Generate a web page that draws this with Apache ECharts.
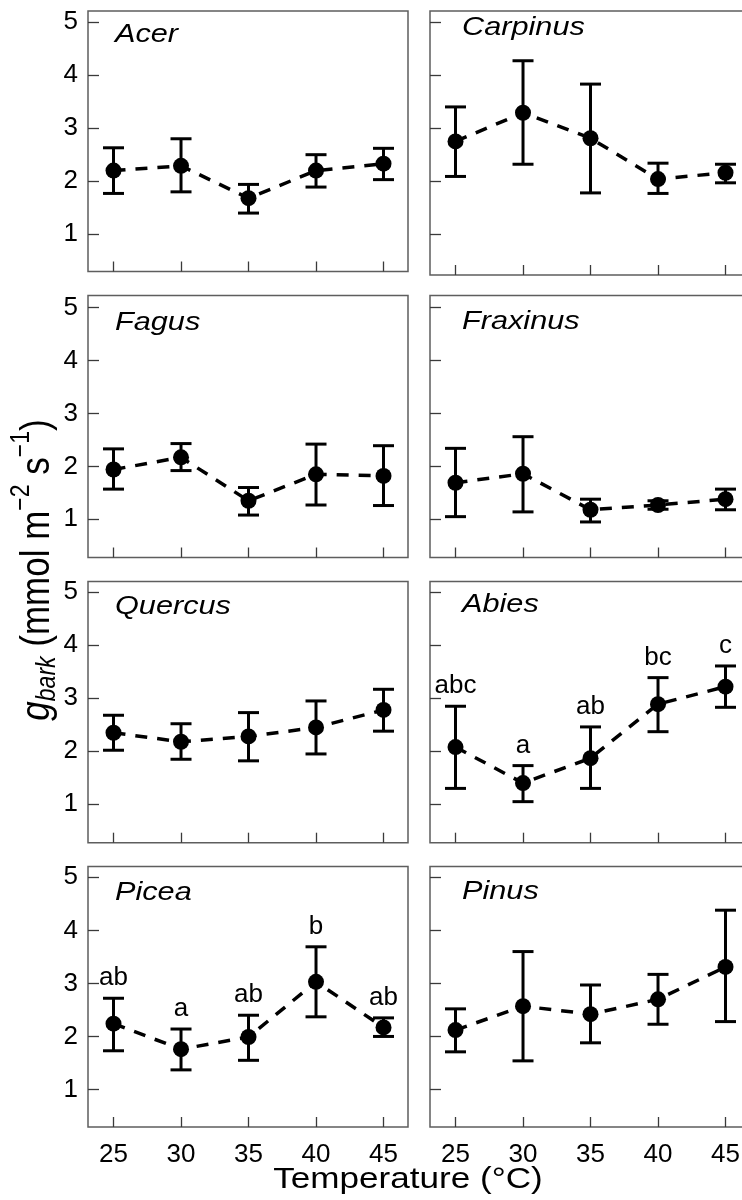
<!DOCTYPE html>
<html>
<head>
<meta charset="utf-8">
<script src="https://cdn.jsdelivr.net/npm/echarts@6/dist/echarts.min.js"></script>
<style>
  html, body { margin: 0; padding: 0; background: #fff; }
  #chart { width: 742px; height: 1200px; }
</style>
</head>
<body>
<div id="chart"></div>
<script>
// Temperatures on the x axis and the y tick values
const temperatures = [25, 30, 35, 40, 45];
const yTicks = [1, 2, 3, 4, 5];

// Bark conductance (mean, lower and upper error limits), mmol m-2 s-1
const acerMean = [2.20, 2.29, 1.68, 2.20, 2.33];
const acerLow  = [1.77, 1.80, 1.40, 1.89, 2.03];
const acerHigh = [2.63, 2.80, 1.94, 2.50, 2.62];

const carpinusMean = [2.75, 3.29, 2.81, 2.04, 2.16];
const carpinusLow  = [2.09, 2.32, 1.78, 1.77, 1.97];
const carpinusHigh = [3.40, 4.27, 3.83, 2.34, 2.32];

const fagusMean = [1.94, 2.17, 1.35, 1.85, 1.82];
const fagusLow  = [1.57, 1.92, 1.08, 1.27, 1.26];
const fagusHigh = [2.33, 2.43, 1.60, 2.42, 2.39];

const fraxinusMean = [1.69, 1.86, 1.18, 1.27, 1.38];
const fraxinusLow  = [1.05, 1.14, 0.95, 1.19, 1.18];
const fraxinusHigh = [2.34, 2.56, 1.38, 1.35, 1.57];

const quercusMean = [2.35, 2.18, 2.28, 2.45, 2.78];
const quercusLow  = [2.02, 1.85, 1.82, 1.95, 2.38];
const quercusHigh = [2.68, 2.52, 2.73, 2.95, 3.17];

const abiesMean = [2.08, 1.40, 1.87, 2.89, 3.22];
const abiesLow  = [1.30, 1.05, 1.30, 2.37, 2.83];
const abiesHigh = [2.85, 1.73, 2.46, 3.39, 3.61];
const abiesLetters = ['abc', 'a', 'ab', 'bc', 'c'];

const piceaMean = [2.24, 1.76, 1.99, 3.03, 2.17];
const piceaLow  = [1.73, 1.37, 1.55, 2.37, 2.00];
const piceaHigh = [2.72, 2.14, 2.40, 3.69, 2.35];
const piceaLetters = ['ab', 'a', 'ab', 'b', 'ab'];

const pinusMean = [2.12, 2.57, 2.42, 2.70, 3.31];
const pinusLow  = [1.71, 1.54, 1.88, 2.23, 2.28];
const pinusHigh = [2.52, 3.60, 2.97, 3.17, 4.38];

const panels = [
  { name: 'Acer',     mean: acerMean,     low: acerLow,     high: acerHigh },
  { name: 'Carpinus', mean: carpinusMean, low: carpinusLow, high: carpinusHigh },
  { name: 'Fagus',    mean: fagusMean,    low: fagusLow,    high: fagusHigh },
  { name: 'Fraxinus', mean: fraxinusMean, low: fraxinusLow, high: fraxinusHigh },
  { name: 'Quercus',  mean: quercusMean,  low: quercusLow,  high: quercusHigh },
  { name: 'Abies',    mean: abiesMean,    low: abiesLow,    high: abiesHigh, letters: abiesLetters },
  { name: 'Picea',    mean: piceaMean,    low: piceaLow,    high: piceaHigh, letters: piceaLetters },
  { name: 'Pinus',    mean: pinusMean,    low: pinusLow,    high: pinusHigh }
];

// ---- layout (pixels) ----
const FONT = '"Liberation Sans", Arial, sans-serif';
const MID = 0.31;               // distance from the middle of the em box to the baseline, in em
const colLeft = [88, 430];
const panelWidth = 320;
const xMin = 23.11, xMax = xMin + panelWidth / 13.5;
// y5 / y1: pixel rows of the 5 and 1 ticks; top / bottom: frame edges (per column)
const rowLayout = [
  { top: 11,    y5: 22,    y1: 234.3,  bottom: [271.5, 275] },
  { top: 295.5, y5: 307.5, y1: 519.3,  bottom: [557.5, 557.5] },
  { top: 581.5, y5: 592.3, y1: 804.3,  bottom: [842.7, 842.7] },
  { top: 866.5, y5: 877.3, y1: 1089.5, bottom: [1127, 1127] }
];
const titleOffset = [32.3, 24.5, 35.5, 34.3, 33, 31.6, 34, 33.3];
const titleIndent = [27, 32];

const grids = [], xAxes = [], yAxes = [], series = [], graphics = [];

panels.forEach((p, i) => {
  const row = Math.floor(i / 2), col = i % 2;
  const L = rowLayout[row];
  const bottom = L.bottom[col];
  const u = (L.y1 - L.y5) / 4;
  const yMax = 5 + (L.y5 - L.top) / u;
  const yMin = 1 - (bottom - L.y1) / u;
  const isBottom = row === rowLayout.length - 1;
  const isLeft = col === 0;

  grids.push({
    left: colLeft[col], top: L.top, width: panelWidth, height: bottom - L.top,
    show: true, borderColor: '#5e5e5e', borderWidth: 1.5, backgroundColor: 'transparent',
    containLabel: false, outerBoundsMode: 'none'
  });

  xAxes.push({
    type: 'value', gridIndex: i, min: xMin, max: xMax,
    axisLine: { show: false },
    splitLine: { show: false },
    axisTick: { show: true, inside: true, length: 10, customValues: temperatures,
                lineStyle: { color: '#3a3a3a', width: 1.3 } },
    axisLabel: { show: isBottom, customValues: temperatures, margin: 15,
                 fontSize: 26, fontFamily: FONT, color: '#000' }
  });

  yAxes.push({
    type: 'value', gridIndex: i, min: yMin, max: yMax,
    axisLine: { show: false },
    splitLine: { show: false },
    axisTick: { show: true, inside: true, length: 11, customValues: yTicks,
                lineStyle: { color: '#3a3a3a', width: 1.3 } },
    axisLabel: { show: isLeft, customValues: yTicks, margin: 10,
                 fontSize: 26, fontFamily: FONT, color: '#000' }
  });

  const letters = p.letters || null;
  const letterFs = 26;

  // error bars with caps, plus significance letters where given
  series.push({
    type: 'custom', xAxisIndex: i, yAxisIndex: i, z: 2, silent: true,
    data: temperatures.map((t, k) => [t, p.low[k], p.high[k]]),
    renderItem: (params, api) => {
      const x = api.value(0);
      const lo = api.coord([x, api.value(1)]);
      const hi = api.coord([x, api.value(2)]);
      const cw = 10.5;
      const st = { stroke: '#000', lineWidth: 3, fill: null };
      const children = [
        { type: 'line', shape: { x1: lo[0], y1: lo[1], x2: hi[0], y2: hi[1] }, style: st },
        { type: 'line', shape: { x1: hi[0] - cw, y1: hi[1], x2: hi[0] + cw, y2: hi[1] }, style: st },
        { type: 'line', shape: { x1: lo[0] - cw, y1: lo[1], x2: lo[0] + cw, y2: lo[1] }, style: st }
      ];
      if (letters) {
        children.push({
          type: 'text', x: hi[0], y: hi[1] - 12 - MID * letterFs,
          style: { text: letters[params.dataIndex], font: letterFs + 'px ' + FONT, fill: '#000',
                   align: 'center', verticalAlign: 'middle',
                   textAlign: 'center', textVerticalAlign: 'middle' }
        });
      }
      return { type: 'group', children };
    }
  });

  // means joined by a dashed line
  series.push({
    type: 'line', xAxisIndex: i, yAxisIndex: i, z: 3, silent: true,
    data: temperatures.map((t, k) => [t, p.mean[k]]),
    symbol: 'circle', symbolSize: 16, showAllSymbol: true,
    itemStyle: { color: '#000', borderWidth: 0 },
    lineStyle: { color: '#000', width: 3.5, type: [12, 10] },
    emphasis: { disabled: true }
  });

  // italic genus name in the panel corner
  const fs = 26;
  graphics.push({
    type: 'text', x: colLeft[col] + titleIndent[col], y: L.top + titleOffset[i] - MID * fs,
    scaleX: 1.18, silent: true,
    style: { text: p.name, font: 'italic ' + fs + 'px ' + FONT, fill: '#000',
             align: 'left', verticalAlign: 'middle', textAlign: 'left', textVerticalAlign: 'middle' }
  });
});

// x axis title
const xtFs = 30;
graphics.push({
  type: 'text', x: 408, y: 1189 - MID * xtFs, scaleX: 1.17, silent: true,
  style: { text: 'Temperature (°C)', font: xtFs + 'px ' + FONT, fill: '#000',
           align: 'center', verticalAlign: 'middle', textAlign: 'center', textVerticalAlign: 'middle' }
});

// y axis title, built piecewise for the subscript and superscripts
const measureCtx = document.createElement('canvas').getContext('2d');
function textWidth(str, font) { measureCtx.font = font; return measureCtx.measureText(str).width; }
const yMain = 35, ySmall = 23;
const titleParts = [
  { t: 'g',        fs: yMain,  italic: true, dy: 0 },
  { t: 'bark',     fs: ySmall, italic: true, dy: 5 },
  { t: ' (mmol m', fs: yMain,  dy: 0 },
  { t: '\u22122',  fs: ySmall, dy: -17 },
  { t: ' s',       fs: yMain,  dy: 0 },
  { t: '\u22121',  fs: ySmall, dy: -17 },
  { t: ')',        fs: yMain,  dy: 0 }
];
let cursor = 0;
const yTitleChildren = titleParts.map(part => {
  const font = (part.italic ? 'italic ' : '') + part.fs + 'px ' + FONT;
  const el = {
    type: 'text', x: cursor, y: part.dy - MID * part.fs,
    style: { text: part.t, font, fill: '#000', align: 'left', verticalAlign: 'middle',
             textAlign: 'left', textVerticalAlign: 'middle' }
  };
  cursor += textWidth(part.t, font);
  return el;
});
graphics.push({
  type: 'group', x: 50, y: 570 + cursor / 2, rotation: Math.PI / 2, scaleY: 1.18,
  silent: true, children: yTitleChildren
});

const chart = echarts.init(document.getElementById('chart'), null, { renderer: 'canvas' });
chart.setOption({
  animation: false,
  backgroundColor: '#fff',
  textStyle: { fontFamily: FONT },
  grid: grids,
  xAxis: xAxes,
  yAxis: yAxes,
  series: series,
  graphic: { elements: graphics }
});
</script>
</body>
</html>
